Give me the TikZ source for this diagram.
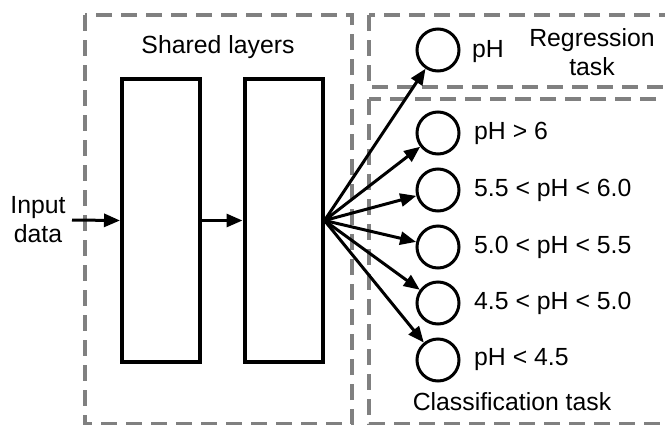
\documentclass[tikz,border=0pt]{standalone}
\usepackage{fontspec}
\setmainfont{Liberation Sans}
\usetikzlibrary{arrows.meta}
\definecolor{boxgray}{RGB}{128,128,128}
\tikzset{
  taskbox/.style={draw=boxgray, line width=3.5pt, dash pattern=on 16pt off 9pt},
  layer/.style={draw, line width=4pt, minimum width=78pt, minimum height=283pt, inner sep=0pt},
  outnode/.style={draw, circle, line width=3pt, minimum size=42pt, inner sep=0pt},
  link/.style={line width=3pt, -{Triangle[length=16pt,width=13pt]}},
  txt/.style={font=\fontsize{24.8}{29}\selectfont, inner sep=0pt}
}
\begin{document}
\begin{tikzpicture}[x=1pt,y=-1pt]
\useasboundingbox (0,0) rectangle (665,424);
\clip (0,0) rectangle (665,424);
% dashed groups
\draw[taskbox] (85,15) rectangle (352,424);
\draw[taskbox] (369,15) rectangle (700,87);
\draw[taskbox] (369,99) rectangle (700,424);
\node[txt] (shared) at (218,47) {Shared layers};
\node[txt, align=center] (regtxt) at (592,52) {Regression\\task};
\node[txt] (clstxt) at (512,402) {Classification task};
% layers
\node[layer] (l1) at (161,220.5) {};
\node[layer] (l2) at (283.5,220.5) {};
\node[txt, align=center] (input) at (38,220) {Input\\data};
\coordinate (in) at (72,220);
\draw[link] (in) -- (l1.west);
\draw[link] (l1.east) -- (l2.west);
% outputs
\node[outnode] (reg) at (438,50) {};
\node[txt, anchor=west] (reglab) at (472,52) {pH};
\foreach \n/\y/\lab in {c1/133/{pH > 6}, c2/190/{5.5 < pH < 6.0}, c3/247/{5.0 < pH < 5.5}, c4/303/{4.5 < pH < 5.0}, c5/360/{pH < 4.5}}{
  \node[outnode] (\n) at (438,\y) {};
  \node[txt, anchor=west] (\n lab) at (474,\y) {\lab};
}
\foreach \n in {reg,c1,c2,c3,c4,c5}
  \draw[link] (l2.east) -- (\n);
\end{tikzpicture}
\end{document}
